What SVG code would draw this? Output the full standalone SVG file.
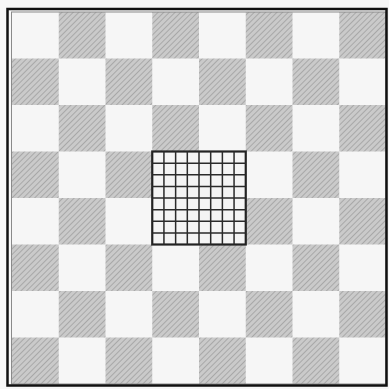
<svg xmlns="http://www.w3.org/2000/svg" width="389" height="389" viewBox="0 0 389 389">
<style>
.w{fill:#f6f6f6}
.d{fill:url(#hatch)}
.g{stroke:#2a2a2a;stroke-width:1.5;fill:none}
</style>
<defs>
<pattern id="hatch" width="4" height="4" patternUnits="userSpaceOnUse" patternTransform="rotate(45)">
<rect width="4" height="4" fill="#cacaca"/>
<line x1="0" y1="0" x2="0" y2="4" stroke="#929292" stroke-width="1.2"/>
</pattern>
</defs>
<rect width="389" height="389" fill="#f7f7f7"/>
<g id="board">
<rect x="12" y="12" width="374" height="372" class="w"/>
<g id="dark">
<rect class="d" x="58.75" y="12" width="46.75" height="46.5"/>
<rect class="d" x="152.25" y="12" width="46.75" height="46.5"/>
<rect class="d" x="245.75" y="12" width="46.75" height="46.5"/>
<rect class="d" x="339.25" y="12" width="46.75" height="46.5"/>
<rect class="d" x="12" y="58.5" width="46.75" height="46.5"/>
<rect class="d" x="105.5" y="58.5" width="46.75" height="46.5"/>
<rect class="d" x="199" y="58.5" width="46.75" height="46.5"/>
<rect class="d" x="292.5" y="58.5" width="46.75" height="46.5"/>
<rect class="d" x="58.75" y="105" width="46.75" height="46.5"/>
<rect class="d" x="152.25" y="105" width="46.75" height="46.5"/>
<rect class="d" x="245.75" y="105" width="46.75" height="46.5"/>
<rect class="d" x="339.25" y="105" width="46.75" height="46.5"/>
<rect class="d" x="12" y="151.5" width="46.75" height="46.5"/>
<rect class="d" x="105.5" y="151.5" width="46.75" height="46.5"/>
<rect class="d" x="292.5" y="151.5" width="46.75" height="46.5"/>
<rect class="d" x="58.75" y="198" width="46.75" height="46.5"/>
<rect class="d" x="245.75" y="198" width="46.75" height="46.5"/>
<rect class="d" x="339.25" y="198" width="46.75" height="46.5"/>
<rect class="d" x="12" y="244.5" width="46.75" height="46.5"/>
<rect class="d" x="105.5" y="244.5" width="46.75" height="46.5"/>
<rect class="d" x="199" y="244.5" width="46.75" height="46.5"/>
<rect class="d" x="292.5" y="244.5" width="46.75" height="46.5"/>
<rect class="d" x="58.75" y="291" width="46.75" height="46.5"/>
<rect class="d" x="152.25" y="291" width="46.75" height="46.5"/>
<rect class="d" x="245.75" y="291" width="46.75" height="46.5"/>
<rect class="d" x="339.25" y="291" width="46.75" height="46.5"/>
<rect class="d" x="12" y="337.5" width="46.75" height="46.5"/>
<rect class="d" x="105.5" y="337.5" width="46.75" height="46.5"/>
<rect class="d" x="199" y="337.5" width="46.75" height="46.5"/>
<rect class="d" x="292.5" y="337.5" width="46.75" height="46.5"/>
</g>
<g id="centre-grid">
<rect x="152.25" y="151.5" width="93.5" height="93" fill="#f4f4f4" stroke="#222" stroke-width="2.2"/>
<path class="g" d="M163.94 151.5V244.5M175.63 151.5V244.5M187.31 151.5V244.5M199 151.5V244.5M210.69 151.5V244.5M222.38 151.5V244.5M234.06 151.5V244.5M152.25 163.13H245.75M152.25 174.75H245.75M152.25 186.38H245.75M152.25 198H245.75M152.25 209.63H245.75M152.25 221.25H245.75M152.25 232.88H245.75"/>
</g>
<rect x="11.5" y="12" width="374.5" height="372" fill="none" stroke="#8a8a8a" stroke-width="1"/>
<rect x="7.5" y="9" width="379" height="376.5" fill="none" stroke="#111" stroke-width="2.5"/>
</g>
</svg>
